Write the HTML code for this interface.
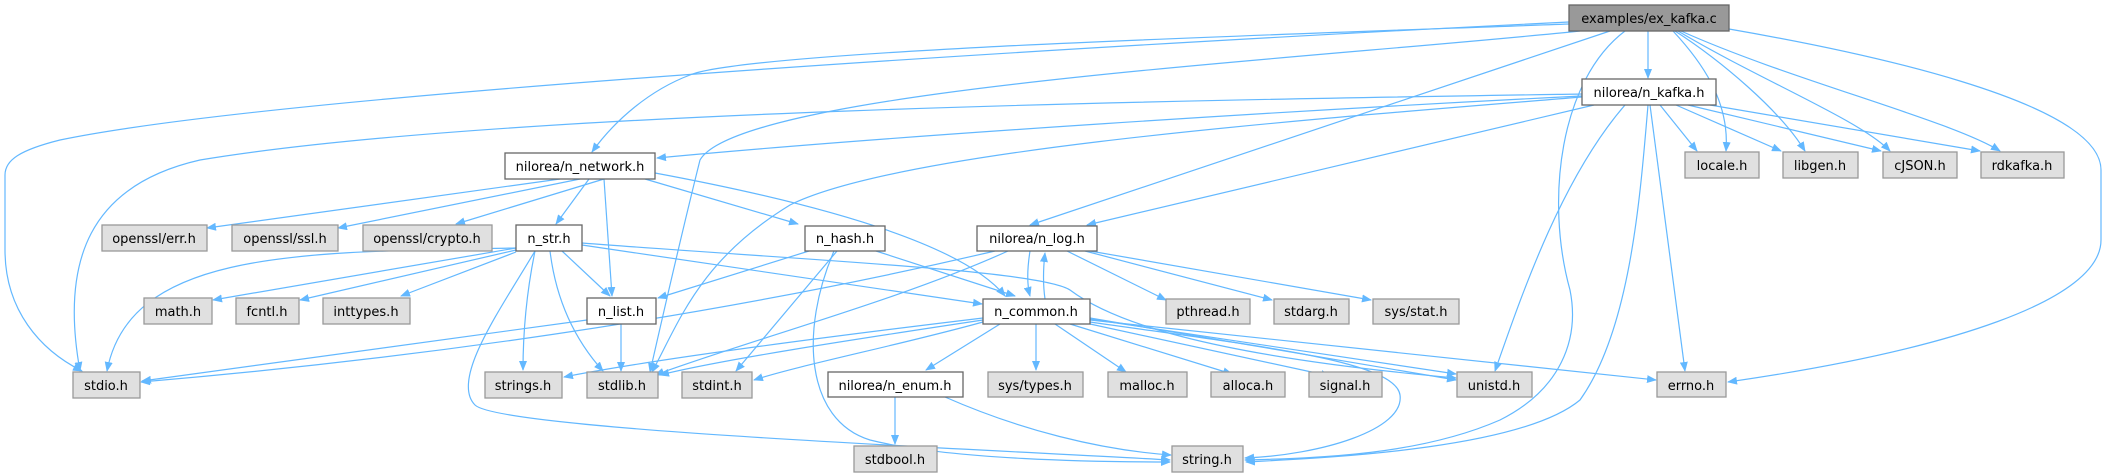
<!DOCTYPE html>
<html><head><meta charset="utf-8"><style>
html,body{margin:0;padding:0;background:#fff;}
svg{display:block;}
text{font-family:"DejaVu Sans","Liberation Sans",sans-serif;font-size:13px;fill:#000;text-anchor:middle;}
.e{fill:none;stroke:#63b8ff;stroke-width:1.2;marker-end:url(#a);}
.w{fill:#fff;stroke:#666;stroke-width:1.3;}
.g{fill:#e0e0e0;stroke:#999;stroke-width:1.3;}
.d{fill:#999;stroke:#666;stroke-width:1.3;}
</style></head><body>
<svg width="2107" height="476" viewBox="0 0 2107 476" xmlns="http://www.w3.org/2000/svg">
<defs><marker id="a" markerWidth="10" markerHeight="8" refX="9" refY="4" orient="auto" markerUnits="userSpaceOnUse"><path d="M0,0 L10,4 L0,8 Z" fill="#63b8ff"/></marker></defs>

<path class="e" d="M1569,22 C1200,40 300,90 60,140 C20,150 5,160 5,175 L5,250 C5,310 40,350 82,371"/>
<path class="e" d="M1569,24 C1300,34 750,50 690,75 C650,90 615,120 592,152"/>
<path class="e" d="M1580,31 C1300,60 740,90 700,160 C690,200 680,240 650,372"/>
<path class="e" d="M1610,31 L1030,225"/>
<path class="e" d="M1648,31 L1648,78"/>
<path class="e" d="M1625,31 C1560,80 1545,200 1570,290 C1580,340 1560,390 1500,420 C1420,455 1320,458 1245,460"/>
<path class="e" d="M1673,31 C1700,60 1730,100 1726,151"/>
<path class="e" d="M1675,31 C1720,60 1780,110 1805,151"/>
<path class="e" d="M1678,31 C1760,80 1860,120 1890,151"/>
<path class="e" d="M1681,31 C1790,80 1950,120 2000,151"/>
<path class="e" d="M1729,29 C1850,50 2101,100 2101,170 L2101,240 C2101,300 1950,350 1728,382"/>

<path class="e" d="M1582,94 C1200,100 500,110 200,160 C90,185 60,260 80,371"/>
<path class="e" d="M1582,96 C1300,110 900,135 657,158"/>
<path class="e" d="M1582,97 C1300,120 900,150 790,205 C700,260 680,320 652,372"/>
<path class="e" d="M1594,105 L1087,225"/>
<path class="e" d="M1625,105 C1560,180 1520,300 1495,371"/>
<path class="e" d="M1648,105 C1640,200 1630,330 1580,400 C1520,450 1320,458 1246,462"/>
<path class="e" d="M1650,105 L1685,371"/>
<path class="e" d="M1660,105 L1697,151"/>
<path class="e" d="M1676,105 L1781,151"/>
<path class="e" d="M1688,105 L1881,151"/>
<path class="e" d="M1710,105 L1980,151"/>

<path class="e" d="M560,179 L207,228"/>
<path class="e" d="M580,179 L338,228"/>
<path class="e" d="M604,179 L456,224"/>
<path class="e" d="M589,179 L556,224"/>
<path class="e" d="M604,179 L612,296"/>
<path class="e" d="M645,179 L798,224"/>
<path class="e" d="M655,173 C800,200 960,240 1005,296"/>

<path class="e" d="M516,248 C300,252 130,250 107,371"/>
<path class="e" d="M516,248 L213,300"/>
<path class="e" d="M516,250 L300,300"/>
<path class="e" d="M516,252 L401,296"/>
<path class="e" d="M562,251 L610,296"/>
<path class="e" d="M535,251 C525,300 523,340 523,370"/>
<path class="e" d="M550,251 C556,300 575,340 603,371"/>
<path class="e" d="M535,251 C500,310 450,380 475,405 C500,430 1000,450 1170,460"/>
<path class="e" d="M582,245 L982,304"/>
<path class="e" d="M582,243 C800,260 1040,270 1070,290 C1110,320 1200,355 1456,378"/>

<path class="e" d="M809,251 L658,298"/>
<path class="e" d="M876,251 L1015,296"/>
<path class="e" d="M837,251 L736,371"/>
<path class="e" d="M834,251 C800,330 805,420 870,440 C950,460 1100,462 1170,462"/>

<path class="e" d="M995,251 C700,320 400,360 141,382"/>
<path class="e" d="M1008,251 C900,300 750,340 655,375"/>
<path class="e" d="M1030,251 C1027,270 1027,285 1030,296"/>
<path class="e" d="M1045,299 C1043,285 1043,270 1045,253"/>
<path class="e" d="M1067,251 L1166,300"/>
<path class="e" d="M1085,251 L1272,300"/>
<path class="e" d="M1090,251 L1371,300"/>

<path class="e" d="M983,318 C800,340 650,360 564,377"/>
<path class="e" d="M983,320 C850,340 720,360 660,375"/>
<path class="e" d="M983,322 C900,345 800,365 754,380"/>
<path class="e" d="M1000,324 L926,370"/>
<path class="e" d="M1036,324 L1036,370"/>
<path class="e" d="M1055,324 L1126,372"/>
<path class="e" d="M1070,324 L1232,374"/>
<path class="e" d="M1090,324 L1330,376"/>
<path class="e" d="M1090,319 L1456,374"/>
<path class="e" d="M1090,320 L1656,380"/>
<path class="e" d="M1090,322 C1250,345 1395,360 1400,395 C1405,430 1320,455 1245,458"/>
<path class="e" d="M1090,318 L1456,380"/>

<path class="e" d="M587,320 L142,381"/>
<path class="e" d="M621,324 L621,371"/>

<path class="e" d="M895,397 L895,444"/>
<path class="e" d="M945,397 C1020,430 1100,450 1171,455"/>

<rect class="d" x="1569" y="5" width="160" height="26"/><text x="1649" y="23">examples/ex_kafka.c</text>
<rect class="w" x="1582" y="79" width="134" height="26"/><text x="1649" y="97">nilorea/n_kafka.h</text>
<rect class="w" x="505" y="153" width="150" height="26"/><text x="580" y="171">nilorea/n_network.h</text>
<rect class="g" x="1685" y="152" width="74" height="26"/><text x="1722" y="170">locale.h</text>
<rect class="g" x="1783" y="152" width="75" height="26"/><text x="1820" y="170">libgen.h</text>
<rect class="g" x="1883" y="152" width="74" height="26"/><text x="1920" y="170">cJSON.h</text>
<rect class="g" x="1981" y="152" width="83" height="26"/><text x="2022" y="170">rdkafka.h</text>
<rect class="g" x="102" y="225" width="105" height="26"/><text x="154" y="243">openssl/err.h</text>
<rect class="g" x="232" y="225" width="106" height="26"/><text x="285" y="243">openssl/ssl.h</text>
<rect class="g" x="363" y="225" width="129" height="26"/><text x="427" y="243">openssl/crypto.h</text>
<rect class="w" x="516" y="225" width="66" height="26"/><text x="549" y="243">n_str.h</text>
<rect class="w" x="805" y="226" width="80" height="25"/><text x="845" y="243">n_hash.h</text>
<rect class="w" x="977" y="226" width="120" height="25"/><text x="1037" y="243">nilorea/n_log.h</text>
<rect class="g" x="144" y="298" width="68" height="26"/><text x="178" y="316">math.h</text>
<rect class="g" x="236" y="298" width="63" height="26"/><text x="267" y="316">fcntl.h</text>
<rect class="g" x="323" y="298" width="87" height="26"/><text x="366" y="316">inttypes.h</text>
<rect class="w" x="587" y="298" width="69" height="26"/><text x="621" y="316">n_list.h</text>
<rect class="w" x="983" y="299" width="107" height="25"/><text x="1036" y="316">n_common.h</text>
<rect class="g" x="1166" y="299" width="84" height="25"/><text x="1208" y="316">pthread.h</text>
<rect class="g" x="1274" y="299" width="75" height="25"/><text x="1311" y="316">stdarg.h</text>
<rect class="g" x="1373" y="299" width="86" height="25"/><text x="1416" y="316">sys/stat.h</text>
<rect class="g" x="73" y="372" width="67" height="26"/><text x="106" y="390">stdio.h</text>
<rect class="g" x="485" y="372" width="77" height="26"/><text x="523" y="390">strings.h</text>
<rect class="g" x="587" y="372" width="71" height="26"/><text x="622" y="390">stdlib.h</text>
<rect class="g" x="682" y="372" width="70" height="26"/><text x="717" y="390">stdint.h</text>
<rect class="w" x="828" y="372" width="135" height="25"/><text x="895" y="390">nilorea/n_enum.h</text>
<rect class="g" x="988" y="372" width="95" height="25"/><text x="1035" y="390">sys/types.h</text>
<rect class="g" x="1108" y="372" width="79" height="25"/><text x="1147" y="390">malloc.h</text>
<rect class="g" x="1211" y="372" width="74" height="25"/><text x="1248" y="390">alloca.h</text>
<rect class="g" x="1309" y="372" width="73" height="25"/><text x="1345" y="390">signal.h</text>
<rect class="g" x="1457" y="372" width="75" height="25"/><text x="1494" y="390">unistd.h</text>
<rect class="g" x="1657" y="372" width="69" height="25"/><text x="1691" y="390">errno.h</text>
<rect class="g" x="854" y="446" width="83" height="26"/><text x="895" y="464">stdbool.h</text>
<rect class="g" x="1172" y="446" width="71" height="26"/><text x="1207" y="464">string.h</text>
</svg>
</body></html>
